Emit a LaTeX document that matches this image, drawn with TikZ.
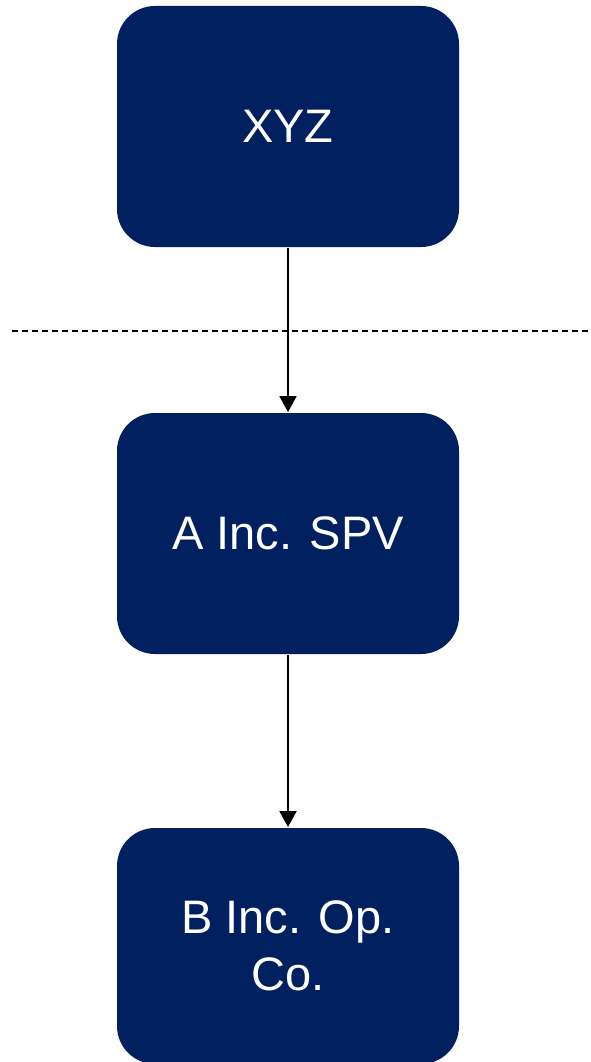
\documentclass[tikz,border=0pt]{standalone}
\usepackage{fontspec}
\setmainfont{Liberation Sans}
\usetikzlibrary{positioning, arrows.meta}
\definecolor{boxblue}{HTML}{002060}

\begin{document}
\begin{tikzpicture}[->,>={Triangle[width=17pt,length=16pt]},line width=2pt,node distance=164pt]
  \tikzstyle{entity}=[rectangle,rounded corners=38pt,fill=boxblue,draw=none,text=white,
    minimum width=342pt,minimum height=241pt,align=center,
    font=\fontsize{47}{57}\selectfont]

  \useasboundingbox (0,0) rectangle (590pt,-1062pt);

  \node[entity] (xyz) at (288pt,-126.5pt) {XYZ};
  \node[entity] (spv) [below=of xyz] {A Inc. SPV};
  \node[entity, minimum height=236pt] (opco) [below=172pt of spv] {B Inc. Op.\\Co.};

  \path (xyz) edge (spv)
        (spv) edge (opco);

  % border line
  \coordinate (dl) at (12pt,-331pt);
  \coordinate (dr) at (590pt,-331pt);
  \draw[-,line width=1.8pt,dash pattern=on 6pt off 4pt] (dl) -- (dr);

\end{tikzpicture}
\end{document}
